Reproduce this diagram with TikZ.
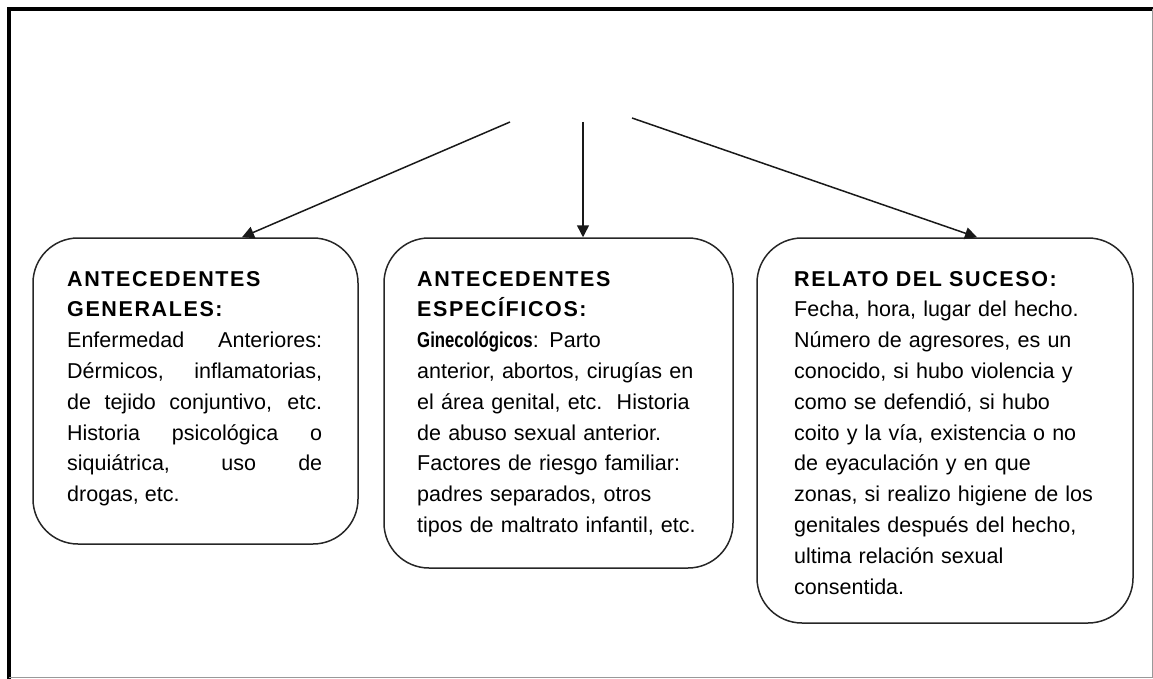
\documentclass[tikz,border=0pt]{standalone}
\usepackage{fontspec, graphicx, tikz}
\setmainfont{Liberation Sans}
\newfontfamily\headfont[LetterSpace=7.5]{Liberation Sans}
\usetikzlibrary{positioning, arrows.meta}

\tikzset{
    casebox/.style = {draw = black!85, line width = 1.5pt, rounded corners = 45pt, inner sep = 0pt},
    casetext/.style = {anchor = base west, inner sep = 0pt, font = \fontsize{21.5}{30.8}\selectfont},
    link/.style = {draw = black!90, line width = 1.5pt, -{Triangle[length = 12pt, width = 12pt]}}
}

\begin{document}
\begin{tikzpicture}[x = 1pt, y = -1pt]
    \useasboundingbox (0,0) rectangle (1153,679);
    	\begin{scope}
          \draw[line width = 3.5pt] (9,679) -- (9,9) -- (1153,9);
          \draw[draw = black!40] (1152.5,9) -- (1152.5,677.5) -- (9,677.5);
    		\node[casebox, minimum width = 325pt, minimum height = 306pt] at (195.5,391) (gen) {};
    		\node[casebox, minimum width = 349pt, minimum height = 330pt] at (558.5,403) (esp) {};
    		\node[casebox, minimum width = 376pt, minimum height = 385pt] at (945,430.5) (rel) {};
    		\coordinate (src1) at (510,122);
    		\coordinate (src2) at (583,122);
    		\coordinate (src3) at (632,118);
    		\draw[link] (src1) -- ([xshift = 46.5pt]gen.north);
    		\draw[link] (src2) -- ([xshift = 24.5pt]esp.north);
    		\draw[link] (src3) -- ([xshift = 32pt]rel.north);
    		\node[casetext, text width = 255pt, align = justify] at (67,286) (gentext) {{\headfont\bfseries ANTECEDENTES\\GENERALES:}\\
    		Enfermedad Anteriores:\linebreak Dérmicos, inflamatorias,\linebreak de tejido conjuntivo, etc.\linebreak Historia psicológica o\linebreak siquiátrica, uso de\linebreak drogas, etc.};
    		\node[casetext, text width = 295pt, align = left] at (417,286) (esptext) {{\headfont\bfseries ANTECEDENTES\\ESPECÍFICOS:}\\
    		{\bfseries\scalebox{0.78}[1]{Ginecológicos}}: Parto\\
    		anterior, abortos, cirugías en\\
    		el área genital, etc.\ \ Historia\\
    		de abuso sexual anterior.\\
    		Factores de riesgo familiar:\\
    		padres separados, otros\\
    		tipos de maltrato infantil, etc.};
    		\node[casetext, text width = 320pt, align = left] at (794,286) (reltext) {{\headfont\bfseries RELATO DEL SUCESO:}\\
    		Fecha, hora, lugar del hecho.\\
    		Número de agresores, es un\\
    		conocido, si hubo violencia y\\
    		como se defendió, si hubo\\
    		coito y la vía, existencia o no\\
    		de eyaculación y en que\\
    		zonas, si realizo higiene de los\\
    		genitales después del hecho,\\
    		ultima relación sexual\\
    		consentida.};
    	\end{scope}
\end{tikzpicture}
\end{document}
